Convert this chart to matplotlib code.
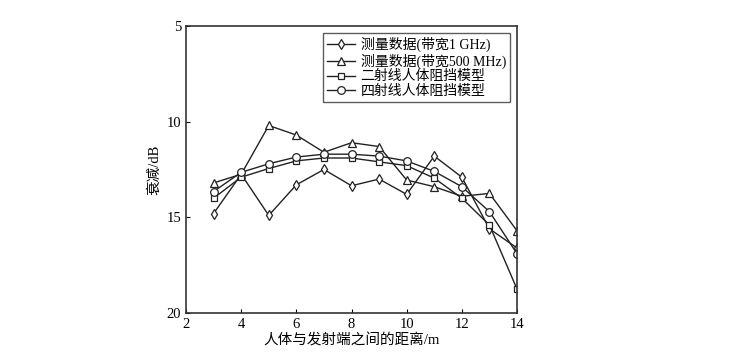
import matplotlib
matplotlib.use('Agg')
import matplotlib.pyplot as plt

plt.rcParams['font.family'] = ['Liberation Serif', 'Noto Sans CJK SC']

# distance between body and transmitter (m)
dist = [3, 4, 5, 6, 7, 8, 9, 10, 11, 12, 13, 14]

# attenuation (dB)
meas_1ghz = [14.8, 12.75, 14.9, 13.3, 12.5, 13.35, 13.0, 13.8, 11.8, 12.9, 15.6, 16.6]
meas_500mhz = [13.2, 12.75, 10.2, 10.7, 11.6, 11.1, 11.3, 13.05, 13.4, 13.9, 13.75, 15.7]
two_ray = [14.0, 12.9, 12.45, 12.05, 11.9, 11.9, 12.1, 12.3, 12.95, 14.0, 15.4, 18.75]
four_ray = [13.65, 12.65, 12.2, 11.85, 11.7, 11.7, 11.8, 12.05, 12.6, 13.4, 14.7, 16.9]

labels = ['测量数据(带宽1 GHz)', '测量数据(带宽500 MHz)', '二射线人体阻挡模型', '四射线人体阻挡模型']
markers = ['d', '^', 's', 'o']
msizes = [5.5, 5.5, 5, 5.5]

fig = plt.figure(figsize=(7.37, 3.64), dpi=100)
ax = fig.add_axes([0.2524, 0.1401, 0.4491, 0.7885])

for ys, mk, ms, lb in zip([meas_1ghz, meas_500mhz, two_ray, four_ray], markers, msizes, labels):
    ax.plot(dist, ys, color='#222222', linewidth=1.0, marker=mk, markersize=ms,
            markerfacecolor='white', markeredgecolor='#222222', markeredgewidth=0.9, label=lb)

ax.set_xlim(2, 14)
ax.set_ylim(20, 5)
ax.set_xticks([2, 4, 6, 8, 10, 12, 14])
ax.set_yticks([5, 10, 15, 20])
ax.tick_params(direction='in', length=3, labelsize=10.5, top=False, right=False)
for s in ax.spines.values():
    s.set_linewidth(1.2)
    s.set_color('#333333')

ax.set_xlabel('人体与发射端之间的距离/m', fontsize=10.5, labelpad=2)
ax.set_ylabel('衰减/dB', fontsize=10.5, labelpad=4)

leg = ax.legend(loc='upper right', fontsize=10, frameon=True, fancybox=False,
                edgecolor='#333333', handlelength=2.0, handletextpad=0.4,
                borderpad=0.3, labelspacing=0.1, borderaxespad=0.5)
leg.get_frame().set_linewidth(1.0)

fig.savefig('out.png', dpi=100)
